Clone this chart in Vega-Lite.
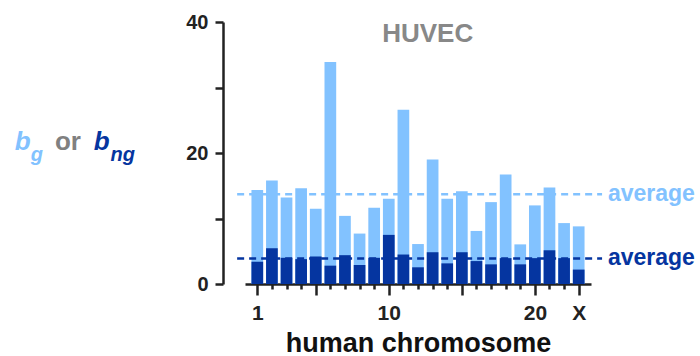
{
  "$schema": "https://vega.github.io/schema/vega-lite/v6.json",
  "width": 346,
  "height": 262,
  "autosize": {"type": "none"},
  "padding": {"left": 245, "top": 22, "right": 109, "bottom": 72},
  "background": "white",
  "config": {"view": {"stroke": null}, "font": "Liberation Sans"},
  "data": {
    "values": [
      {"chr": "1", "pos": 1, "bg": 14.35, "bng": 3.4},
      {"chr": "2", "pos": 2, "bg": 15.8, "bng": 5.45},
      {"chr": "3", "pos": 3, "bg": 13.2, "bng": 4.0},
      {"chr": "4", "pos": 4, "bg": 14.6, "bng": 3.8},
      {"chr": "5", "pos": 5, "bg": 11.5, "bng": 4.2},
      {"chr": "6", "pos": 6, "bg": 33.9, "bng": 2.8},
      {"chr": "7", "pos": 7, "bg": 10.4, "bng": 4.4},
      {"chr": "8", "pos": 8, "bg": 7.7, "bng": 2.9},
      {"chr": "9", "pos": 9, "bg": 11.65, "bng": 4.0},
      {"chr": "10", "pos": 10, "bg": 13.0, "bng": 7.5},
      {"chr": "11", "pos": 11, "bg": 26.6, "bng": 4.5},
      {"chr": "12", "pos": 12, "bg": 6.1, "bng": 2.55},
      {"chr": "13", "pos": 13, "bg": 19.0, "bng": 4.85},
      {"chr": "14", "pos": 14, "bg": 13.0, "bng": 3.15},
      {"chr": "15", "pos": 15, "bg": 14.15, "bng": 4.85},
      {"chr": "16", "pos": 16, "bg": 8.1, "bng": 3.5},
      {"chr": "17", "pos": 17, "bg": 12.5, "bng": 3.0},
      {"chr": "18", "pos": 18, "bg": 16.7, "bng": 3.95},
      {"chr": "19", "pos": 19, "bg": 6.05, "bng": 3.0},
      {"chr": "20", "pos": 20, "bg": 12.0, "bng": 3.95},
      {"chr": "21", "pos": 21, "bg": 14.75, "bng": 5.15},
      {"chr": "22", "pos": 22, "bg": 9.3, "bng": 3.95},
      {"chr": "X", "pos": 23, "bg": 8.8, "bng": 2.2}
    ]
  },
  "layer": [
    {
      "mark": {"type": "bar", "color": "#82C2FF", "size": 11.7, "orient": "vertical"},
      "encoding": {
        "x": {
          "field": "pos", "type": "quantitative",
          "scale": {"domain": [0.5, 23.5], "nice": false, "zero": false},
          "axis": {
            "values": [1,2,3,4,5,6,7,8,9,10,11,12,13,14,15,16,17,18,19,20,21,22,23],
            "tickCount": 40,
            "labelExpr": "datum.value==1?'1':datum.value==10?'10':datum.value==20?'20':datum.value==23?'X':''",
            "tickSize": {"condition": {"test": "datum.value==1||datum.value%5==0||datum.value==23", "value": 11}, "value": 5},
            "tickWidth": 2.5, "tickColor": "#222", "domainColor": "#222", "domainWidth": 2.5,
            "labelFontSize": 21, "labelFontWeight": "bold", "labelColor": "#222",
            "labelPadding": 7, "labelFlush": false, "labelOverlap": false,
            "title": "human chromosome", "titleFontSize": 27, "titleFontWeight": "bold",
            "titleColor": "#111", "titlePadding": 7, "grid": false
          }
        },
        "y": {
          "field": "bg", "type": "quantitative",
          "scale": {"domain": [0, 40], "nice": false},
          "axis": {
            "values": [0, 10, 20, 30, 40],
            "tickCount": 10,
            "labelExpr": "datum.value%20==0?datum.label:''",
            "offset": 22, "tickSize": 8, "tickWidth": 2.5, "tickColor": "#222",
            "domainColor": "#222", "domainWidth": 2.5,
            "labelFontSize": 20, "labelFontWeight": "bold", "labelColor": "#222",
            "labelPadding": 7, "title": null, "grid": false
          }
        }
      }
    },
    {
      "mark": {"type": "bar", "color": "#0535A0", "size": 11.7, "orient": "vertical"},
      "encoding": {
        "x": {"field": "pos", "type": "quantitative"},
        "y": {"field": "bng", "type": "quantitative"}
      }
    },
    {
      "data": {"values": [{"series": "bg", "avg": 13.7}, {"series": "bng", "avg": 3.9}]},
      "layer": [
        {
          "mark": {"type": "rule", "strokeWidth": 2.5, "strokeDash": [7, 5], "clip": false},
          "encoding": {
            "x": {"datum": -0.38, "type": "quantitative"},
            "x2": {"datum": 24.6},
            "y": {"field": "avg", "type": "quantitative"},
            "color": {"field": "series", "type": "nominal", "scale": {"domain": ["bg", "bng"], "range": ["#82C2FF", "#0535A0"]}, "legend": null}
          }
        },
        {
          "mark": {"type": "text", "text": "average", "align": "left", "baseline": "alphabetic", "dy": 6.5, "fontSize": 23, "fontWeight": "bold"},
          "encoding": {
            "x": {"datum": 25.0, "type": "quantitative"},
            "y": {"field": "avg", "type": "quantitative"},
            "color": {"field": "series", "type": "nominal", "legend": null}
          }
        }
      ]
    },
    {
      "data": {"values": [{}]},
      "mark": {"type": "text", "text": "HUVEC", "align": "center", "baseline": "alphabetic", "fontSize": 26, "fontWeight": "bold", "color": "#888888"},
      "encoding": {"x": {"datum": 12.66, "type": "quantitative"}, "y": {"datum": 36.9, "type": "quantitative"}}
    },
    {
      "data": {"values": [{}]},
      "mark": {"type": "text", "text": "b", "align": "left", "baseline": "alphabetic", "fontSize": 26, "fontWeight": "bold", "fontStyle": "italic", "color": "#82C2FF"},
      "encoding": {"x": {"datum": -15.6, "type": "quantitative"}, "y": {"datum": 20.46, "type": "quantitative"}}
    },
    {
      "data": {"values": [{}]},
      "mark": {"type": "text", "text": "g", "align": "left", "baseline": "alphabetic", "fontSize": 20, "fontWeight": "bold", "fontStyle": "italic", "color": "#82C2FF"},
      "encoding": {"x": {"datum": -14.5, "type": "quantitative"}, "y": {"datum": 18.78, "type": "quantitative"}}
    },
    {
      "data": {"values": [{}]},
      "mark": {"type": "text", "text": "or", "align": "left", "baseline": "alphabetic", "fontSize": 26, "fontWeight": "bold", "color": "#808080"},
      "encoding": {"x": {"datum": -12.85, "type": "quantitative"}, "y": {"datum": 20.46, "type": "quantitative"}}
    },
    {
      "data": {"values": [{}]},
      "mark": {"type": "text", "text": "b", "align": "left", "baseline": "alphabetic", "fontSize": 26, "fontWeight": "bold", "fontStyle": "italic", "color": "#0535A0"},
      "encoding": {"x": {"datum": -10.2, "type": "quantitative"}, "y": {"datum": 20.46, "type": "quantitative"}}
    },
    {
      "data": {"values": [{}]},
      "mark": {"type": "text", "text": "ng", "align": "left", "baseline": "alphabetic", "fontSize": 20, "fontWeight": "bold", "fontStyle": "italic", "color": "#0535A0"},
      "encoding": {"x": {"datum": -9.05, "type": "quantitative"}, "y": {"datum": 18.78, "type": "quantitative"}}
    }
  ]
}
